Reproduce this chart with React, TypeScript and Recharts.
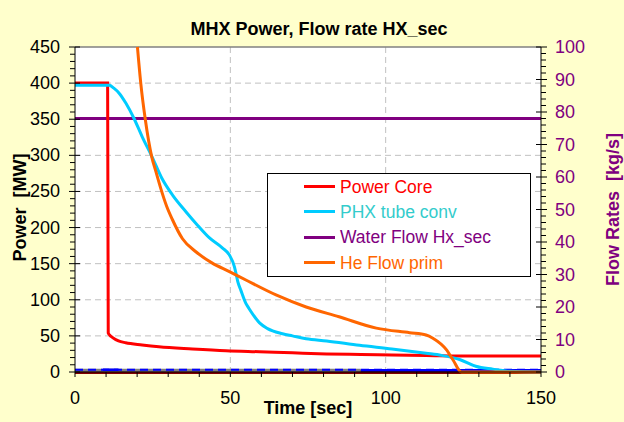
import { LineChart, Line, XAxis, YAxis, CartesianGrid, Legend, ReferenceLine } from 'recharts';

// Power Core [MW] (left axis)
const coreTime = [0, 10.5, 10.7, 11.2, 12, 14, 16.3, 21.6, 27, 37.8, 48.6, 59.4, 70, 81, 92, 102, 113, 129, 150];
const coreMW = [400, 400, 54, 51, 48, 43, 40.5, 37.5, 35, 32, 29.5, 28, 26.5, 25, 24.2, 23.5, 22.8, 22, 22];

// PHX tube conv [MW] (left axis)
const phxTime = [0, 11, 12.5, 14.2, 16.4, 19, 21.6, 24.8, 28, 31.4, 35.7, 39.5, 43.2, 47.4, 49.7, 51.3, 51.8, 52.4, 53.4, 55, 56, 59.4, 62, 66.8, 70, 74.4, 81, 91.6, 102, 113, 118, 124, 129, 134.5, 140, 150];
const phxMW = [397, 397, 393, 386, 372, 351, 326, 298, 268, 245, 222, 203, 186, 172, 162, 146, 137, 125, 113, 95, 88, 68, 60, 53, 50, 46, 43, 37, 32, 26, 23, 17, 8, 4, 1, 0];

// Water Flow Hx_sec [kg/s] (right axis)
const waterTime = [0, 150];
const waterFlow = [78, 78];

// He Flow prim [kg/s] (right axis)
const heTime = [20.1, 21.2, 22.6, 24.7, 26, 27.6, 29.5, 31.3, 34.6, 38.9, 44.2, 49.7, 55, 64.7, 74.4, 85, 97, 107.7, 113, 115.2, 119.6, 121.7, 124.4, 150];
const heFlow = [100, 88.6, 77.9, 66.2, 61.8, 56.5, 51, 47, 41, 37, 33.5, 30.9, 28.3, 23.7, 20, 17, 13.5, 12.1, 11.4, 10.4, 6.8, 3.7, 0, 0];

// unlabelled traces near zero [MW]
const grayTime = [0, 92];
const grayMW = [2.5, 2.5];
const blueDashTime = [0, 150];
const blueDashMW = [3, 3];
const blueTime = [9, 14, 50, 92, 150];
const blueMW = [3, 3, null, 2.5, 2.5];
const brownTime = [0, 150];
const brownMW = [0, 0];

const powerTicks = [0, 50, 100, 150, 200, 250, 300, 350, 400, 450];
const flowTicks = [0, 10, 20, 30, 40, 50, 60, 70, 80, 90, 100];
const timeTicks = [0, 50, 100, 150];

const legendNames = ['Power Core', 'PHX tube conv', 'Water Flow Hx_sec', 'He Flow prim'];
const legendLine = ['#FF0000', '#00CCFF', '#800080', '#FF6600'];
const legendText = ['#FF0000', '#33CCCC', '#800080', '#FF6600'];

const toPoints = (t: number[], v: (number | null)[]) => t.map((x, i) => ({ t: x, v: v[i] }));
const steps = (max: number, step: number) => Array.from({ length: Math.round(max / step) + 1 }, (_, i) => i * step);

const FONT = "Arial, 'Liberation Sans', sans-serif";

const LeftTick = ({ x, y, payload }: any) => {
  const major = powerTicks.includes(payload.value);
  return (
    <g>
      <line x1={x - (major ? 6 : 5)} x2={x + (major ? 5 : 0)} y1={y} y2={y} stroke="#000" />
      {major && (
        <text x={x - 15} y={y} dy={6} textAnchor="end" fontSize={18} fontFamily={FONT} fill="#000">
          {payload.value}
        </text>
      )}
    </g>
  );
};

const RightTick = ({ x, y, payload }: any) => {
  const major = flowTicks.includes(payload.value);
  return (
    <g>
      <line x1={x - (major ? 5 : 0)} x2={x + (major ? 6 : 5)} y1={y} y2={y} stroke="#000" />
      {major && (
        <text x={x + 14} y={y} dy={6} textAnchor="start" fontSize={18} fontFamily={FONT} fill="#800080">
          {payload.value}
        </text>
      )}
    </g>
  );
};

const BottomTick = ({ x, y, payload }: any) => {
  const major = timeTicks.includes(payload.value);
  return (
    <g>
      <line x1={x} x2={x} y1={y} y2={y + 5} stroke="#000" />
      {major && (
        <text x={x} y={y + 32} textAnchor="middle" fontSize={18} fontFamily={FONT} fill="#000">
          {payload.value}
        </text>
      )}
    </g>
  );
};

const LegendBox = () => (
  <div
    style={{
      width: 264,
      height: 104,
      boxSizing: 'border-box',
      border: '1px solid #000',
      background: '#fff',
      fontFamily: FONT,
      fontSize: 17.5,
    }}
  >
    {legendNames.map((name, i) => (
      <div key={name} style={{ display: 'flex', alignItems: 'center', height: 25.3 }}>
        <span style={{ display: 'inline-block', width: 31, height: 3, marginLeft: 36, background: legendLine[i] }} />
        <span style={{ marginLeft: 5, color: legendText[i], lineHeight: '20px' }}>{name}</span>
      </div>
    ))}
  </div>
);

export default function App() {
  return (
    <div style={{ position: 'absolute', left: 0, top: 0, width: 624, height: 422, background: '#FFFFCC' }}>
      <div
        style={{
          position: 'absolute',
          left: 0,
          top: 19,
          width: 638,
          textAlign: 'center',
          fontFamily: FONT,
          fontWeight: 'bold',
          fontSize: 18,
          color: '#000',
        }}
      >
        MHX Power, Flow rate HX_sec
      </div>
      <LineChart width={624} height={422} margin={{ top: 47, right: 0, bottom: 0, left: 0 }}>
        <CartesianGrid
          xAxisId="x"
          yAxisId="left"
          fill="#fff"
          stroke="#c0c0c0"
          strokeDasharray="6 4"
          horizontalValues={[50, 100, 150, 200, 250, 300, 350, 400]}
          verticalValues={[50, 100]}
        />
        <XAxis
          xAxisId="x"
          dataKey="t"
          type="number"
          domain={[0, 150]}
          ticks={steps(150, 10)}
          interval={0}
          height={50}
          tickSize={0}
          tickMargin={0}
          tick={<BottomTick />}
          axisLine={{ stroke: '#000' }}
          label={({ viewBox }: any) => (
            <text
              x={viewBox.x + viewBox.width / 2}
              y={viewBox.y + 42}
              textAnchor="middle"
              fontSize={18}
              fontWeight="bold"
              fontFamily={FONT}
              fill="#000"
            >
              Time [sec]
            </text>
          )}
        />
        <YAxis
          yAxisId="left"
          type="number"
          domain={[0, 450]}
          ticks={steps(450, 10)}
          interval={0}
          width={75}
          tickSize={0}
          tickMargin={0}
          tick={<LeftTick />}
          axisLine={{ stroke: '#000' }}
          label={({ viewBox }: any) => {
            const cx = viewBox.x + 20;
            const cy = viewBox.y + viewBox.height / 2 - 2;
            return (
              <text
                x={cx}
                y={cy}
                transform={`rotate(-90, ${cx}, ${cy})`}
                textAnchor="middle"
                dominantBaseline="central"
                fontSize={18}
                fontWeight="bold"
                fontFamily={FONT}
                fill="#000"
                style={{ whiteSpace: 'pre' }}
              >
                {'Power  [MW]'}
              </text>
            );
          }}
        />
        <YAxis
          yAxisId="right"
          orientation="right"
          type="number"
          domain={[0, 100]}
          ticks={steps(100, 2)}
          interval={0}
          width={83}
          tickSize={0}
          tickMargin={0}
          tick={<RightTick />}
          axisLine={{ stroke: '#000' }}
          label={({ viewBox }: any) => {
            const cx = viewBox.x + 72;
            const cy = viewBox.y + viewBox.height / 2;
            return (
              <text
                x={cx}
                y={cy}
                transform={`rotate(-90, ${cx}, ${cy})`}
                textAnchor="middle"
                dominantBaseline="central"
                fontSize={18}
                fontWeight="bold"
                fontFamily={FONT}
                fill="#800080"
                style={{ whiteSpace: 'pre' }}
              >
                {'Flow Rates  [kg/s]'}
              </text>
            );
          }}
        />
        <ReferenceLine xAxisId="x" yAxisId="left" y={450} stroke="#808080" strokeWidth={1.5} />

        <Line xAxisId="x" yAxisId="left" data={toPoints(brownTime, brownMW)} dataKey="v" stroke="#800000" strokeWidth={4} dot={false} legendType="none" isAnimationActive={false} />
        <Line xAxisId="x" yAxisId="left" data={toPoints(grayTime, grayMW)} dataKey="v" stroke="#808080" strokeWidth={3} dot={false} legendType="none" isAnimationActive={false} />
        <Line xAxisId="x" yAxisId="left" data={toPoints(blueTime, blueMW)} dataKey="v" stroke="#0000FF" strokeWidth={2.5} dot={false} legendType="none" isAnimationActive={false} />
        <Line xAxisId="x" yAxisId="left" data={toPoints(blueDashTime, blueDashMW)} dataKey="v" stroke="#0000FF" strokeWidth={2} strokeDasharray="8 5" dot={false} legendType="none" isAnimationActive={false} />
        <Line xAxisId="x" yAxisId="right" data={toPoints(waterTime, waterFlow)} dataKey="v" name="Water Flow Hx_sec" stroke="#800080" strokeWidth={3} dot={false} isAnimationActive={false} />
        <Line xAxisId="x" yAxisId="left" data={toPoints(coreTime, coreMW)} dataKey="v" name="Power Core" type="monotone" stroke="#FF0000" strokeWidth={3} dot={false} isAnimationActive={false} />
        <Line xAxisId="x" yAxisId="left" data={toPoints(phxTime, phxMW)} dataKey="v" name="PHX tube conv" type="monotone" stroke="#00CCFF" strokeWidth={3} dot={false} isAnimationActive={false} />
        <Line xAxisId="x" yAxisId="right" data={toPoints(heTime, heFlow)} dataKey="v" name="He Flow prim" type="monotone" stroke="#FF6600" strokeWidth={3} dot={false} isAnimationActive={false} />

        <Legend
          layout="vertical"
          align="center"
          verticalAlign="middle"
          content={() => <LegendBox />}
          wrapperStyle={{ left: 267, top: 173, width: 264, height: 104 }}
        />
      </LineChart>
    </div>
  );
}
